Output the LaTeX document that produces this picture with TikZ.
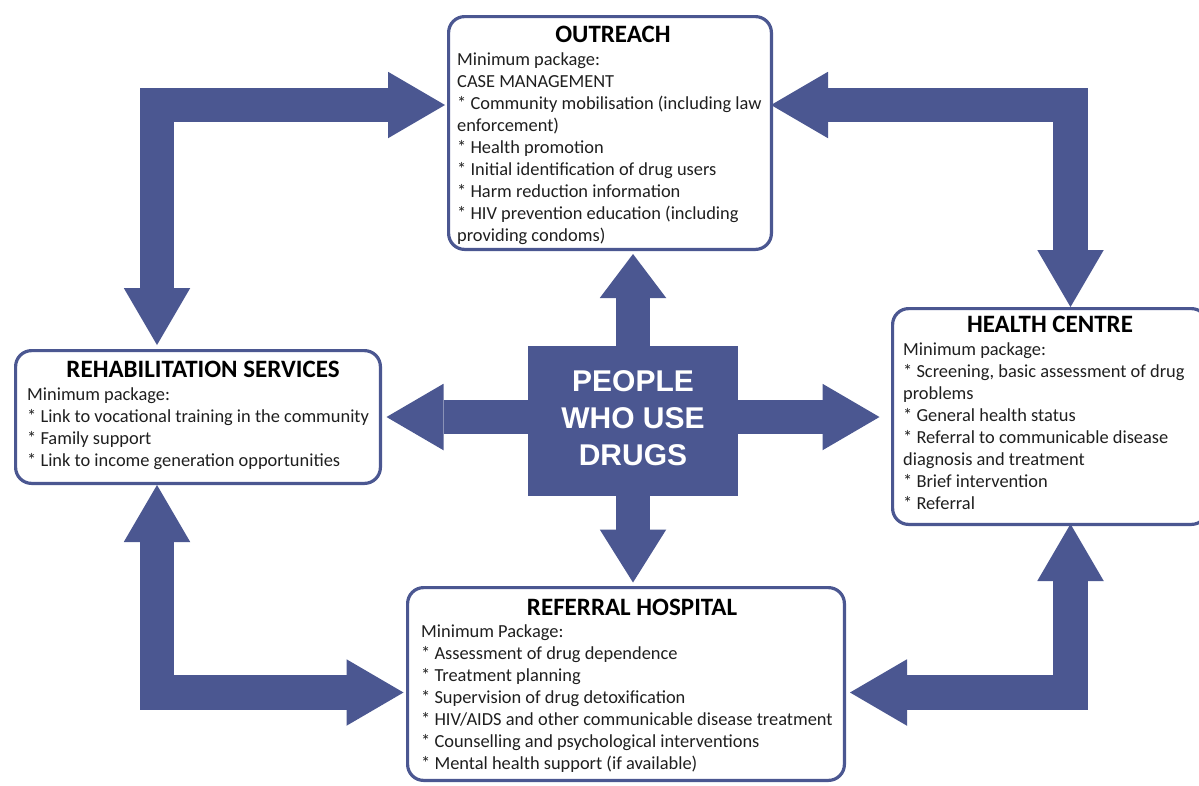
\documentclass[tikz,border=0pt]{standalone}
\usepackage{fontspec}
\setmainfont{Carlito}
\newfontfamily\arialfont{Liberation Sans}
\usetikzlibrary{arrows.meta,positioning}

\definecolor{navy}{RGB}{75,87,145}
\newcommand{\items}[1]{\begin{tabular}[t]{@{}l@{}}#1\end{tabular}}

\tikzset{
  box/.style={draw=navy, line width=3.2pt, rounded corners=16pt, fill=white, inner sep=0pt},
  boxtitle/.style={anchor=base, inner sep=0pt, font=\fontsize{25}{30}\selectfont\bfseries},
  boxtext/.style={anchor=base west, inner sep=0pt, font=\fontsize{18.4}{22}\selectfont, text=black!88},
  bigarrow/.style={navy, line width=34.5pt,
    >={Triangle[width=66.5pt,length=57pt,line width=0pt]}},
}

\begin{document}
\begin{tikzpicture}[x=1pt,y=-1pt]
  \useasboundingbox (0,0) rectangle (1199,785);

  % the four services
  \node[box, minimum width=322.8pt, minimum height=232.8pt] (outreach) at (610,133) {};
  \node[box, minimum width=314.8pt, minimum height=215.8pt] (health) at (1050,416.5) {};
  \node[box, minimum width=364.8pt, minimum height=132.8pt] (rehab) at (198,417) {};
  \node[box, minimum width=436.8pt, minimum height=192.8pt] (referral) at (626,684) {};

  \node[boxtitle] (outreach-t) at (613,42) {OUTREACH};
  \node[boxtext] (outreach-b) at (457,65) {\items{Minimum package:\\
    CASE MANAGEMENT\\
    {*} Community mobilisation (including law\\
    enforcement)\\
    {*} Health promotion\\
    {*} Initial identification of drug users\\
    {*} Harm reduction information\\
    {*} HIV prevention education (including\\
    providing condoms)}};

  \node[boxtitle] (health-t) at (1050,332) {HEALTH CENTRE};
  \node[boxtext] (health-b) at (903,355) {\items{Minimum package:\\
    {*} Screening, basic assessment of drug\\
    problems\\
    {*} General health status\\
    {*} Referral to communicable disease\\
    diagnosis and treatment\\
    {*} Brief intervention\\
    {*} Referral}};

  \node[boxtitle] (rehab-t) at (203,377) {REHABILITATION SERVICES};
  \node[boxtext] (rehab-b) at (27,400) {\items{Minimum package:\\
    {*} Link to vocational training in the community\\
    {*} Family support\\
    {*} Link to income generation opportunities}};

  \node[boxtitle] (referral-t) at (632,615) {REFERRAL HOSPITAL};
  \node[boxtext] (referral-b) at (421,637) {\items{Minimum Package:\\
    {*} Assessment of drug dependence\\
    {*} Treatment planning\\
    {*} Supervision of drug detoxification\\
    {*} HIV/AIDS and other communicable disease treatment\\
    {*} Counselling and psychological interventions\\
    {*} Mental health support (if available)}};

  % centre
  \node[fill=navy, minimum width=210pt, minimum height=150pt, text=white,
        font=\arialfont\bfseries\fontsize{30}{37.2}\selectfont] (ctr) at (633,421)
        {\raisebox{3.5pt}{\begin{tabular}{@{}c@{}}PEOPLE\\WHO USE\\DRUGS\end{tabular}}};

  \coordinate (lft) at ([yshift=4pt]ctr.west);
  \coordinate (rgt) at ([yshift=4pt]ctr.east);
  \draw[bigarrow, -{Triangle[width=66.5pt,length=44pt,line width=0pt]}, shorten >=3pt]
    (ctr.north) -- (ctr.north |- outreach.south);
  \draw[bigarrow, -{Triangle[width=66.5pt,length=53pt,line width=0pt]}, shorten >=3.5pt]
    (ctr.south) -- (ctr.south |- referral.north);
  \draw[bigarrow, ->, shorten >=4.5pt] (lft) -- (lft -| rehab.east);
  \draw[bigarrow, ->, shorten >=11.5pt] (rgt) -- (rgt -| health.west);

  % links between services
  \coordinate (tl) at (157,105);
  \coordinate (tr) at (1070.5,105);
  \coordinate (bl) at (157,692.5);
  \coordinate (br) at (1070.5,692.5);
  \draw[bigarrow, <->, shorten <=4pt, shorten >=2pt] (tl |- rehab.north) |- (tl -| outreach.west);
  \draw[bigarrow, <->, shorten <=-2pt] (tr -| outreach.east) -| (tr |- health.north);
  \draw[bigarrow, <->, shorten >=2.5pt] (bl |- rehab.south) |- (bl -| referral.west);
  \draw[bigarrow, <->, shorten <=-2pt, shorten >=4pt] (br |- health.south) |- (br -| referral.east);
\end{tikzpicture}
\end{document}
